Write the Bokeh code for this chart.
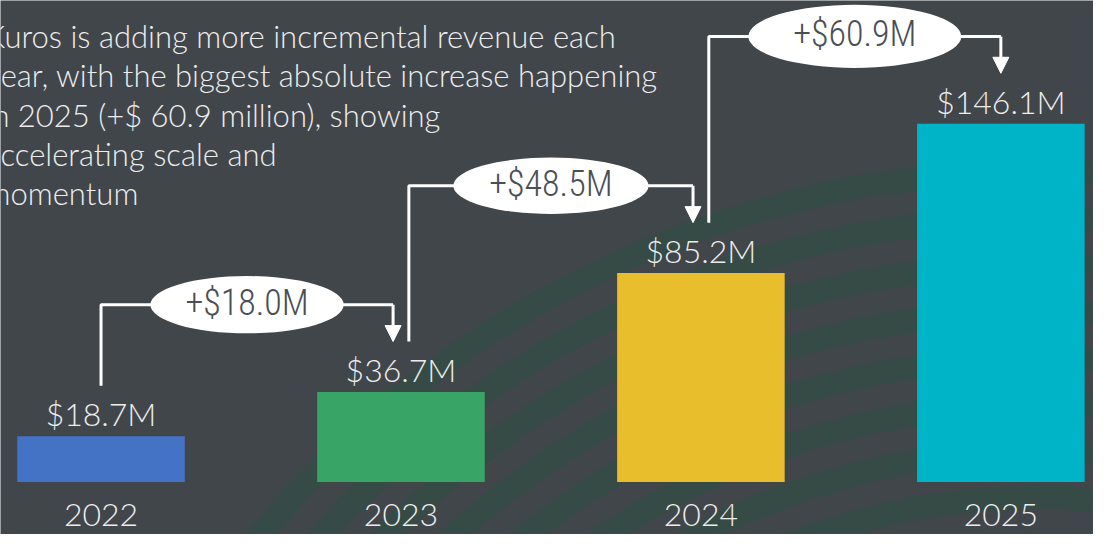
from bokeh.plotting import figure
from bokeh.models import Range1d, Arrow, NormalHead, ColumnDataSource
from bokeh.core.properties import value
from bokeh.embed import file_html
from bokeh.resources import INLINE

# ---------------- data ----------------
years = ["2022", "2023", "2024", "2025"]
revenue = [18.7, 36.7, 85.2, 146.1]          # $M
bar_colors = ["#4472C4", "#38A466", "#E8BE2C", "#00B4C8"]
description = [
    "Kuros is adding more incremental revenue each",
    "year, with the biggest absolute increase happening",
    "in 2025 (+$ 60.9 million), showing",
    "accelerating scale and",
    "momentum",
]

value_labels = ["${:.1f}M".format(v) for v in revenue]
increases = [round(revenue[i + 1] - revenue[i], 1) for i in range(len(revenue) - 1)]
increase_labels = ["+${:.1f}M".format(d) for d in increases]

# ---------------- layout ----------------
W, H = 1093, 534
SX, SY = W / 1109, H / 550
PX_PER_CAT = 304.33 * SX     # pixels between bar centres
PX_PER_M = 2.526 * SY        # pixels per $M
X0_PX = 102 * SX             # first bar centre, px from left
ZERO_PX = 496 * SY           # zero line, px from top

BG = "#41464b"
TXT = "#ededed"
FONT = "'Lato Light', Lato"
PILL_FONT = "'Roboto Condensed Light', 'Roboto Light', Roboto"
LATO_SHIFT = 10              # svg text baseline correction
ROBOTO_SHIFT = 14

xr = Range1d(-X0_PX / PX_PER_CAT, (W - X0_PX) / PX_PER_CAT)
yr = Range1d(-(H - ZERO_PX) / PX_PER_M, ZERO_PX / PX_PER_M)

p = figure(width=W, height=H, x_range=xr, y_range=yr,
           output_backend="svg", toolbar_location=None,
           min_border=0, outline_line_color=None)
p.background_fill_color = BG
p.border_fill_color = BG
p.axis.visible = False
p.grid.visible = False

# ---------------- decorative arcs ----------------
cx = (1053 * SX - X0_PX) / PX_PER_CAT
cy = (ZERO_PX - 1221 * SY) / PX_PER_M
radii = [(1045 - 48 * k) * SY for k in range(9)]
p.arc(x=[cx] * len(radii), y=[cy] * len(radii), radius=radii,
      radius_units="screen", start_angle=0.35, end_angle=2.95,
      line_color="#364b45", line_width=24)

# ---------------- bars ----------------
xs = list(range(len(years)))
src = ColumnDataSource(dict(x=xs, top=revenue, color=bar_colors,
                            label=value_labels, year=years))
p.vbar(x="x", top="top", bottom=0, width=170 * SX / PX_PER_CAT, color="color",
       line_color=None, source=src)

p.text(x="x", y="top", text="label", source=src, y_offset=-13 * SY - LATO_SHIFT,
       text_align="center", text_baseline="alphabetic",
       text_color=TXT, text_font=value(FONT), text_font_size="32px")
p.text(x="x", y=0, text="year", source=src, y_offset=47 * SY - LATO_SHIFT - 3,
       text_align="center", text_baseline="alphabetic",
       text_color=TXT, text_font=value(FONT), text_font_size="32px")

# ---------------- connectors ----------------
ell_w = [196, 198, 216]
ell_h = [59, 58, 65]
n = len(revenue)
for i in range(n - 1):
    off_src = 0 if i == 0 else 8 * SX
    off_dst = 8 * SX if i + 1 < n - 1 else 0
    x_s = i + off_src / PX_PER_CAT
    x_d = (i + 1) - off_dst / PX_PER_CAT
    y_sb = revenue[i] + 52 * SY / PX_PER_M
    tip = revenue[i + 1] + 52 * SY / PX_PER_M
    y_h = tip + 38 * SY / PX_PER_M
    p.line(x=[x_s, x_s, x_d], y=[y_sb, y_h, y_h], line_color="white",
           line_width=3)
    p.add_layout(Arrow(end=NormalHead(size=16, fill_color="white",
                                      line_color="white", line_width=1),
                       x_start=x_d, y_start=y_h, x_end=x_d, y_end=tip,
                       line_color="white", line_width=3))
    xm = (x_s + x_d) / 2
    p.ellipse(x=[xm], y=[y_h], width=[ell_w[i] * SX], height=[ell_h[i] * SY],
              width_units="screen", height_units="screen",
              fill_color="white", line_color=None)
    p.text(x=[xm], y=[y_h], text=[increase_labels[i]], y_offset=12 - ROBOTO_SHIFT,
           text_align="center", text_baseline="alphabetic",
           text_color="#4a4f55", text_font=value(PILL_FONT),
           text_font_size="36px")

# ---------------- description ----------------
for k, line in enumerate(description):
    p.text(x=[xr.start], y=[yr.end], text=[line], x_offset=-15,
           y_offset=(48 + 40.5 * k) * SY - LATO_SHIFT - 1, text_align="left",
           text_baseline="alphabetic", text_color=TXT,
           text_font=value(FONT), text_font_size="31px")

open("out.html", "w").write(file_html(p, INLINE))
